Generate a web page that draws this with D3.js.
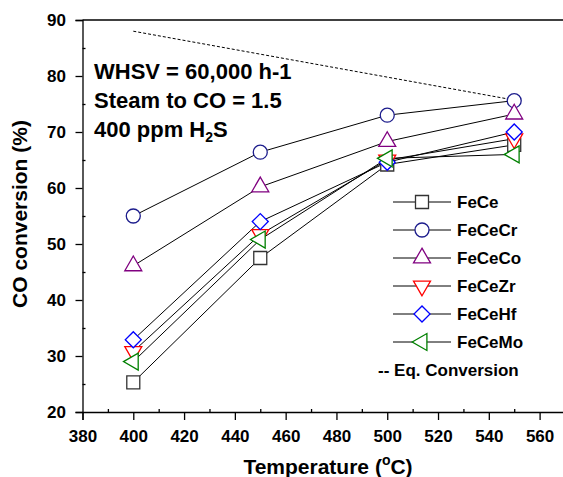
<!DOCTYPE html>
<html>
<head>
<meta charset="utf-8">
<script src="https://cdn.jsdelivr.net/npm/d3@7"></script>
<style>
  body { margin: 0; background: #fff; }
  text { font-family: "Liberation Sans", Arial, sans-serif; font-weight: bold; }
</style>
</head>
<body>
<div id="chart"></div>
<script>
// Data
const temps = [400, 450, 500, 550];
const feCe = [25.3, 47.5, 64.2, 67.7];
const feCeCr = [55, 66.4, 73, 75.6];
const feCeCo = [46.1, 60.2, 68.3, 73.2];
const feCeZr = [30.8, 51.7, 65, 68.8];
const feCeHf = [32.9, 54, 64.6, 70];
const feCeMo = [29, 50.8, 65.3, 66];
const eqTemps = [400, 550];
const eqConv = [88, 75.7];
const xTicks = [380, 400, 420, 440, 460, 480, 500, 520, 540, 560];
const yTicks = [20, 30, 40, 50, 60, 70, 80, 90];
const notes = ["WHSV = 60,000 h-1", "Steam to CO = 1.5"];

const series = [
  { name: "FeCe", values: feCe, color: "#333333", shape: "square" },
  { name: "FeCeCr", values: feCeCr, color: "#1c1c8c", shape: "circle" },
  { name: "FeCeCo", values: feCeCo, color: "#800080", shape: "up" },
  { name: "FeCeZr", values: feCeZr, color: "#ff0000", shape: "down" },
  { name: "FeCeHf", values: feCeHf, color: "#0000ff", shape: "diamond" },
  { name: "FeCeMo", values: feCeMo, color: "#008000", shape: "left" }
];

const width = 563, height = 477;
const svg = d3.select("#chart").append("svg")
  .attr("width", width)
  .attr("height", height);

const x = d3.scaleLinear().domain([380, 570]).range([82.5, 565]);
const y = d3.scaleLinear().domain([20, 90]).range([412, 20]);

function symbolPath(shape) {
  if (shape === "square") return { d: d3.symbol(d3.symbolSquare, 169)(), rot: 0 };
  if (shape === "circle") return { d: d3.symbol(d3.symbolCircle, 154)(), rot: 0 };
  if (shape === "up") return { d: d3.symbol(d3.symbolTriangle, 125)(), rot: 0 };
  if (shape === "down") return { d: d3.symbol(d3.symbolTriangle, 125)(), rot: 180 };
  if (shape === "left") return { d: d3.symbol(d3.symbolTriangle, 125)(), rot: -90 };
  return { d: d3.symbol(d3.symbolSquare, 128)(), rot: 45 };
}

// axes
svg.append("g")
  .attr("transform", `translate(${x(380)},0)`)
  .call(d3.axisLeft(y).tickValues(yTicks).tickSize(7).tickPadding(9.5));
svg.append("g")
  .attr("transform", `translate(${x(380)},0)`)
  .call(d3.axisLeft(y).tickValues(d3.range(25, 90, 10)).tickSize(-3).tickFormat(""))
  .select(".domain").remove();

svg.append("g")
  .attr("transform", `translate(0,${y(20)})`)
  .call(d3.axisBottom(x).tickValues(xTicks).tickSize(8).tickPadding(9.5));
svg.append("g")
  .attr("transform", `translate(0,${y(20)})`)
  .call(d3.axisBottom(x).tickValues(d3.range(390, 570, 20)).tickSize(-3).tickFormat(""))
  .select(".domain").remove();

svg.selectAll(".tick text")
  .attr("font-size", 17)
  .attr("font-family", "Liberation Sans, Arial, sans-serif")
  .attr("font-weight", "bold")
  .attr("fill", "#000");
svg.selectAll(".domain, .tick line").attr("stroke", "#000").attr("stroke-width", 1.3);

// top frame
svg.append("line")
  .attr("x1", x(380)).attr("x2", width)
  .attr("y1", y(90)).attr("y2", y(90))
  .attr("stroke", "#000").attr("stroke-width", 1.3);

// equilibrium conversion
svg.append("path")
  .datum(eqTemps.map((t, i) => [t, eqConv[i]]))
  .attr("d", d3.line().x(d => x(d[0])).y(d => y(d[1])))
  .attr("fill", "none")
  .attr("stroke", "#000")
  .attr("stroke-width", 1)
  .attr("stroke-dasharray", "3,2");

const line = d3.line().x(d => x(d[0])).y(d => y(d[1]));

series.forEach(s => {
  svg.append("path")
    .datum(temps.map((t, i) => [t, s.values[i]]))
    .attr("d", line)
    .attr("fill", "none")
    .attr("stroke", "#000")
    .attr("stroke-width", 1);
});

series.forEach(s => {
  const sym = symbolPath(s.shape);
  svg.append("g").selectAll("path")
    .data(temps.map((t, i) => [t, s.values[i]]))
    .enter().append("path")
    .attr("d", sym.d)
    .attr("transform", d => `translate(${x(d[0])},${y(d[1])}) rotate(${sym.rot})`)
    .attr("fill", "#fff")
    .attr("stroke", s.color)
    .attr("stroke-width", 1.3);
});

// annotation
notes.forEach((n, i) => {
  svg.append("text")
    .attr("x", 94)
    .attr("y", 79 + i * 29)
    .attr("font-size", 22)
    .text(n);
});
const h2s = svg.append("text")
  .attr("x", 94)
  .attr("y", 137)
  .attr("font-size", 22);
h2s.append("tspan").text("400 ppm H");
h2s.append("tspan").attr("font-size", 14).attr("dy", 5).text("2");
h2s.append("tspan").attr("dy", -5).text("S");

// legend
const legend = svg.append("g");
series.forEach((s, i) => {
  const ly = 202 + i * 28;
  legend.append("line")
    .attr("x1", 393).attr("x2", 451)
    .attr("y1", ly).attr("y2", ly)
    .attr("stroke", "#000").attr("stroke-width", 1);
  const sym = symbolPath(s.shape);
  legend.append("path")
    .attr("d", sym.d)
    .attr("transform", `translate(422,${ly}) rotate(${sym.rot})`)
    .attr("fill", "#fff")
    .attr("stroke", s.color)
    .attr("stroke-width", 1.3);
  legend.append("text")
    .attr("x", 457)
    .attr("y", ly + 6)
    .attr("font-size", 17)
    .text(s.name);
});
legend.append("text")
  .attr("x", 378)
  .attr("y", 202 + 6 * 28 + 6)
  .attr("font-size", 17)
  .text("-- Eq. Conversion");

// axis labels
const xl = svg.append("text")
  .attr("x", 328)
  .attr("y", 474)
  .attr("text-anchor", "middle")
  .attr("font-size", 21);
xl.append("tspan").text("Temperature (");
xl.append("tspan").attr("font-size", 14).attr("dy", -9).text("o");
xl.append("tspan").attr("dy", 9).text("C)");

svg.append("text")
  .attr("transform", "translate(27,214) rotate(-90)")
  .attr("text-anchor", "middle")
  .attr("font-size", 21)
  .text("CO conversion (%)");
</script>
</body>
</html>
